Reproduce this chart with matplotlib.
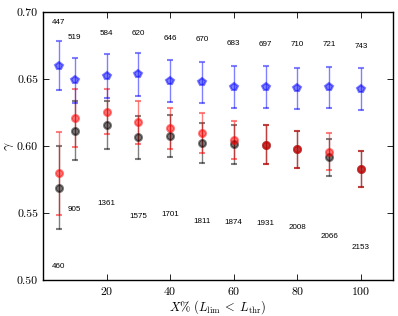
import matplotlib
matplotlib.use("Agg")
import matplotlib.pyplot as plt
import numpy as np

plt.rcParams['font.family'] = 'cmr10'
plt.rcParams['mathtext.fontset'] = 'cm'
plt.rcParams['axes.formatter.use_mathtext'] = True

x = [5, 10, 20, 30, 40, 50, 60, 70, 80, 90, 100]

# blue pentagons
gamma_blue = [0.660, 0.649, 0.652, 0.6535, 0.6485, 0.6475, 0.6443, 0.6438, 0.643, 0.6438, 0.6425]
err_blue = [0.018, 0.017, 0.0165, 0.016, 0.0155, 0.0155, 0.0157, 0.0158, 0.0155, 0.0155, 0.0155]

# red circles
gamma_red = [0.5796, 0.621, 0.6256, 0.6177, 0.6132, 0.6095, 0.6045, 0.601, 0.5975, 0.5958, 0.5828]
err_red = [0.031, 0.0215, 0.017, 0.016, 0.0155, 0.015, 0.0145, 0.0145, 0.014, 0.014, 0.0137]

# black circles
gamma_black = [0.569, 0.6115, 0.6157, 0.6065, 0.6075, 0.602, 0.6013, 0.601, 0.5975, 0.5915, 0.5828]
err_black = [0.031, 0.022, 0.0177, 0.016, 0.0155, 0.015, 0.0147, 0.0145, 0.014, 0.014, 0.0137]

top_labels = ['447', '519', '584', '620', '646', '670', '683', '697', '710', '721', '743']
top_y = [0.692, 0.6813, 0.6836, 0.6843, 0.6806, 0.6796, 0.6766, 0.6761, 0.6754, 0.676, 0.6746]

bottom_labels = ['460', '905', '1361', '1575', '1701', '1811', '1874', '1931', '2008', '2066', '2153']
bottom_y = [0.5104, 0.5528, 0.5572, 0.5472, 0.549, 0.5435, 0.5428, 0.5423, 0.539, 0.5328, 0.5241]

fig = plt.figure(figsize=(3.98, 3.16), dpi=100)
ax = fig.add_axes([0.108, 0.114, 0.879, 0.848])

ax.errorbar(x, gamma_black, yerr=err_black, fmt='o', color='black', alpha=0.5,
            ms=5, mec='black', mew=1.5, capsize=2.5, elinewidth=1.0, capthick=1.0)
ax.errorbar(x, gamma_red, yerr=err_red, fmt='o', color='red', alpha=0.5,
            ms=5, mec='red', mew=1.5, capsize=2.5, elinewidth=1.0, capthick=1.0)
ax.errorbar(x, gamma_blue, yerr=err_blue, fmt='p', color='blue', alpha=0.5,
            ms=5.5, mec='blue', mew=1.5, capsize=2.5, elinewidth=1.0, capthick=1.0)

for xi, lab, yi in zip(x, top_labels, top_y):
    ax.text(xi, yi, lab, ha='center', va='center', fontsize=5.8, family='Liberation Sans')
for xi, lab, yi in zip(x, bottom_labels, bottom_y):
    ax.text(xi, yi, lab, ha='center', va='center', fontsize=5.8, family='Liberation Sans')

ax.set_xlim(0, 110)
ax.set_ylim(0.50, 0.70)
ax.set_xticks([20, 40, 60, 80, 100])
ax.set_yticks([0.50, 0.55, 0.60, 0.65, 0.70])
ax.yaxis.set_major_formatter(matplotlib.ticker.FormatStrFormatter('%.2f'))
ax.tick_params(direction='in', top=True, right=True, labelsize=8.5, length=4, width=0.6)
for s in ax.spines.values():
    s.set_linewidth(1.0)

ax.set_xlabel(r'$X\%\ (L_{\rm lim}\;<\;L_{\rm thr})$', fontsize=9, labelpad=1)
ax.set_ylabel(r'$\gamma$', fontsize=10)
ax.yaxis.set_label_coords(-0.078, 0.5)

fig.savefig('out.png', dpi=100)
